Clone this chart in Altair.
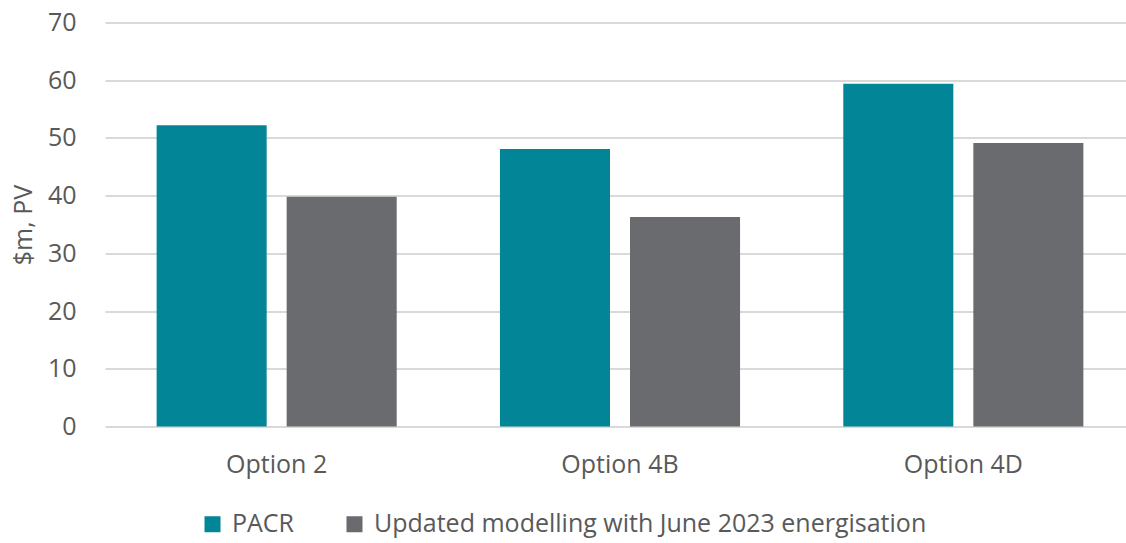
import altair as alt
import pandas as pd

# Net market benefits by option, $m present value
options = ["Option 2", "Option 4B", "Option 4D"]
series = ["PACR", "Updated modelling with June 2023 energisation"]
pacr_values = [52.2, 48.1, 59.4]
updated_values = [39.8, 36.3, 49.1]
colors = ["#028596", "#6A6B6F"]
y_ticks = [0, 10, 20, 30, 40, 50, 60, 70]

rows = []
for opt, p, u in zip(options, pacr_values, updated_values):
    rows.append({"option": opt, "series": series[0], "value": p})
    rows.append({"option": opt, "series": series[1], "value": u})
df = pd.DataFrame(rows)

FONT = "Open Sans"
TEXT = "#595959"
GRID = "#D9D9D9"

chart = (
    alt.Chart(df)
    .mark_bar()
    .encode(
        x=alt.X(
            "option:N",
            sort=options,
            title=None,
            scale=alt.Scale(range=[1, 1031], paddingInner=0, paddingOuter=0),
            axis=alt.Axis(
                domain=False,
                ticks=False,
                labelAngle=0,
                labelFont=FONT,
                labelFontSize=25,
                labelColor=TEXT,
                labelPadding=26,
                grid=False,
            ),
        ),
        xOffset=alt.XOffset(
            "series:N",
            sort=series,
            scale=alt.Scale(paddingInner=0.1538, paddingOuter=0.397),
        ),
        y=alt.Y(
            "value:Q",
            title="$m, PV",
            scale=alt.Scale(domain=[0, 70], nice=False),
            axis=alt.Axis(
                values=y_ticks,
                domain=False,
                ticks=False,
                labelFont=FONT,
                labelFontSize=25,
                labelColor=TEXT,
                labelPadding=28,
                gridColor=GRID,
                gridWidth=2,
                titleFont=FONT,
                titleFontSize=25,
                titleFontWeight="normal",
                titleColor=TEXT,
                titleX=-81,
                titleY=202,
                titleBaseline="middle",
                titleAngle=270,
            ),
        ),
        color=alt.Color(
            "series:N",
            sort=series,
            scale=alt.Scale(domain=series, range=colors),
            legend=alt.Legend(
                title=None,
                orient="none",
                direction="horizontal",
                legendX=96,
                legendY=489,
                symbolType="square",
                symbolSize=256,
                symbolStrokeWidth=0,
                labelFont=FONT,
                labelFontSize=25,
                labelColor=TEXT,
                labelOffset=7,
                columnPadding=47,
                labelLimit=800,
            ),
        ),
    )
    .properties(
        width=1022,
        height=404,
        background="white",
        autosize=alt.AutoSizeParams(type="none"),
        padding={"left": 104, "top": 22.5, "right": 0, "bottom": 116.5},
    )
    .configure_view(strokeOpacity=0, strokeWidth=0)
)

chart.save("out.html", embed_options={"renderer": "svg", "actions": False})
